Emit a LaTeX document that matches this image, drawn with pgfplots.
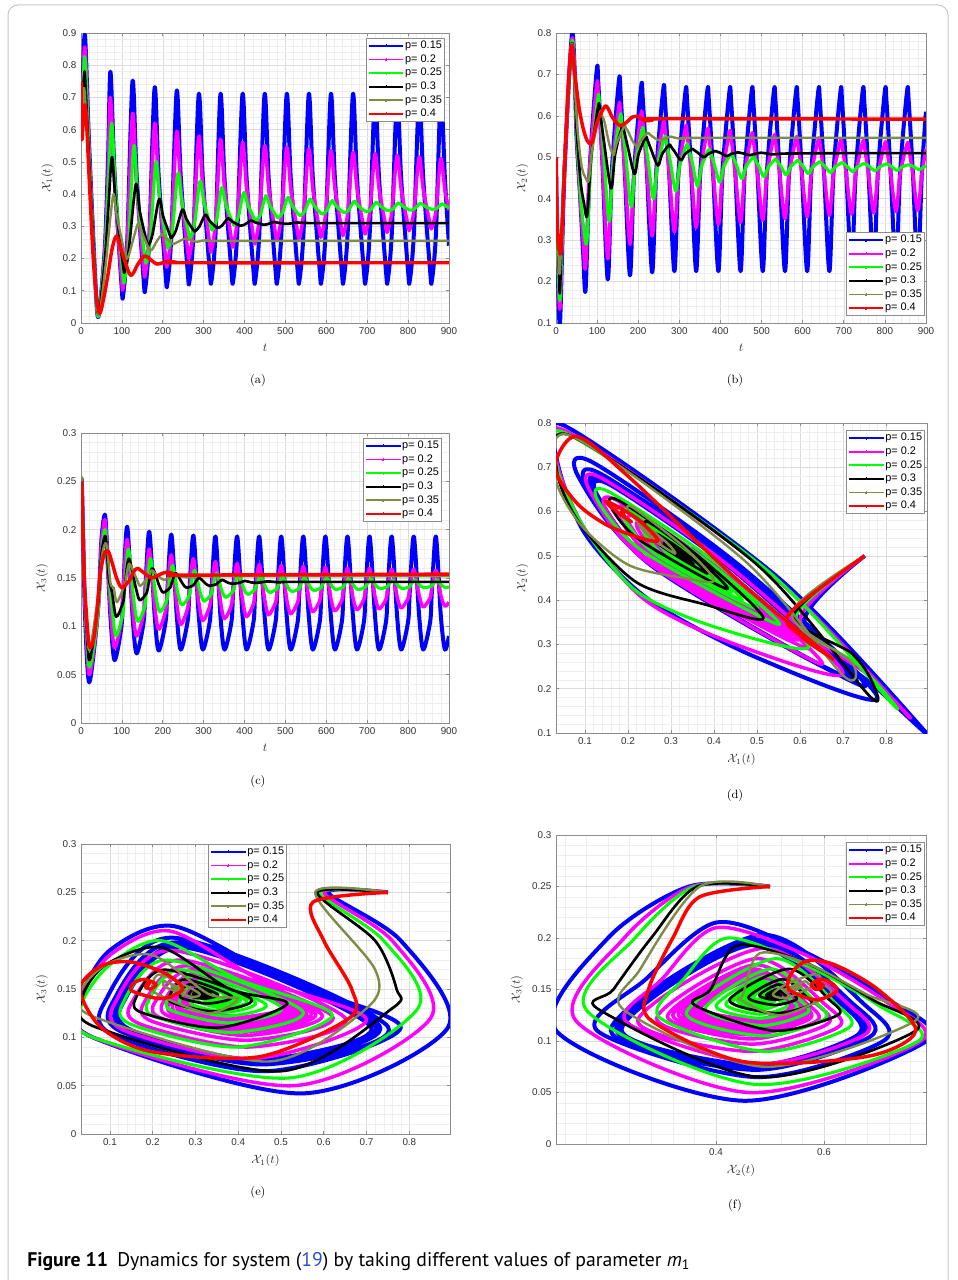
\documentclass[border=0pt]{standalone}
\usepackage{pgfplots}
\pgfplotsset{compat=1.18}
\usepackage{pgfplotstable}
\usepackage{fontspec}
\newfontfamily\arialf{Liberation Sans}
\newfontfamily\capf{PT Sans}
\definecolor{cb}{rgb}{0,0,1}
\definecolor{cm}{rgb}{1,0,1}
\definecolor{cg}{rgb}{0,1,0}
\definecolor{ck}{rgb}{0,0,0}
\definecolor{co}{RGB}{125,140,70}
\definecolor{cr}{rgb}{1,0,0}
\definecolor{axc}{RGB}{140,140,140}
\definecolor{tkc}{RGB}{50,50,50}
\definecolor{linkblue}{RGB}{40,80,200}

\pgfplotstableread{
t x1 x2 x3
0 0.75 0.50 0.25
2 0.61 0.35 0.25
5 0.78 0.20 0.20
10 0.89 0.104 0.11
20 0.55 0.45 0.042
38 0.06 0.79 0.10
45 0.034 0.72 0.14
50 0.10 0.55 0.19
59 0.25 0.40 0.215
66 0.50 0.27 0.16
72 0.78 0.18 0.11
82 0.467 0.472 0.065
99 0.12 0.71 0.10
103 0.085 0.678 0.134
113 0.251 0.483 0.203
126 0.75 0.205 0.111
136 0.46 0.469 0.072
153 0.137 0.685 0.104
157 0.105 0.656 0.135
167 0.261 0.473 0.198
180 0.73 0.215 0.112
190 0.455 0.465 0.075
207 0.15 0.67 0.105
211 0.12 0.643 0.135
221 0.27 0.468 0.195
234 0.72 0.222 0.112
244 0.454 0.466 0.076
261 0.158 0.665 0.106
265 0.128 0.638 0.135
275 0.274 0.467 0.194
288 0.71 0.225 0.111
298 0.449 0.464 0.076
315 0.159 0.66 0.105
319 0.13 0.634 0.135
329 0.275 0.464 0.193
341 0.71 0.225 0.111
351 0.449 0.464 0.076
368 0.159 0.66 0.105
372 0.13 0.634 0.135
382 0.275 0.464 0.193
395 0.71 0.225 0.111
405 0.449 0.464 0.076
422 0.159 0.66 0.105
426 0.13 0.634 0.135
436 0.275 0.464 0.193
449 0.71 0.225 0.111
459 0.449 0.464 0.076
476 0.159 0.66 0.105
480 0.13 0.634 0.135
490 0.275 0.464 0.193
503 0.71 0.225 0.111
513 0.449 0.464 0.076
530 0.159 0.66 0.105
534 0.13 0.634 0.135
544 0.275 0.464 0.193
557 0.71 0.225 0.111
567 0.449 0.464 0.076
584 0.159 0.66 0.105
588 0.13 0.634 0.135
598 0.275 0.464 0.193
611 0.71 0.225 0.111
621 0.449 0.464 0.076
638 0.159 0.66 0.105
642 0.13 0.634 0.135
652 0.275 0.464 0.193
665 0.71 0.225 0.111
675 0.449 0.464 0.076
692 0.159 0.66 0.105
696 0.13 0.634 0.135
706 0.275 0.464 0.193
719 0.71 0.225 0.111
729 0.449 0.464 0.076
746 0.159 0.66 0.105
750 0.13 0.634 0.135
760 0.275 0.464 0.193
773 0.71 0.225 0.111
783 0.449 0.464 0.076
800 0.159 0.66 0.105
804 0.13 0.634 0.135
814 0.275 0.464 0.193
827 0.71 0.225 0.111
837 0.449 0.464 0.076
854 0.159 0.66 0.105
858 0.13 0.634 0.135
868 0.275 0.464 0.193
880 0.71 0.225 0.111
890 0.449 0.464 0.076
900 0.24 0.61 0.09
}\tblB

\pgfplotstableread{
t x1 x2 x3
0 0.75 0.50 0.25
2 0.60 0.355 0.25
5 0.76 0.23 0.20
10 0.85 0.14 0.12
20 0.53 0.46 0.05
38 0.06 0.78 0.10
45 0.035 0.71 0.14
50 0.10 0.56 0.185
59 0.24 0.40 0.21
66 0.45 0.30 0.16
72 0.70 0.235 0.118
82 0.435 0.477 0.078
99 0.14 0.675 0.106
103 0.11 0.649 0.134
113 0.245 0.486 0.19
126 0.65 0.255 0.12
136 0.425 0.459 0.09
153 0.175 0.625 0.113
157 0.15 0.603 0.135
167 0.268 0.474 0.18
180 0.62 0.29 0.122
190 0.422 0.463 0.097
207 0.202 0.605 0.116
211 0.18 0.586 0.136
221 0.284 0.472 0.174
234 0.595 0.31 0.124
244 0.42 0.461 0.102
261 0.225 0.585 0.119
265 0.205 0.569 0.136
275 0.299 0.466 0.17
288 0.58 0.32 0.125
298 0.42 0.459 0.106
315 0.243 0.572 0.121
319 0.225 0.557 0.1365
329 0.311 0.463 0.167
341 0.57 0.33 0.126
351 0.421 0.459 0.108
368 0.257 0.565 0.122
372 0.24 0.551 0.1365
382 0.32 0.463 0.165
395 0.56 0.338 0.127
405 0.42 0.46 0.11
422 0.266 0.56 0.1235
426 0.25 0.547 0.137
436 0.325 0.462 0.164
449 0.55 0.343 0.128
459 0.42 0.46 0.112
476 0.275 0.555 0.125
480 0.26 0.542 0.1375
490 0.331 0.462 0.163
503 0.545 0.348 0.128
513 0.419 0.459 0.113
530 0.279 0.55 0.125
534 0.265 0.538 0.1375
544 0.334 0.461 0.162
557 0.54 0.352 0.129
567 0.418 0.459 0.115
584 0.283 0.546 0.1265
588 0.27 0.534 0.138
598 0.336 0.46 0.161
611 0.535 0.356 0.129
621 0.418 0.459 0.116
638 0.288 0.543 0.127
642 0.275 0.532 0.138
652 0.339 0.461 0.16
665 0.53 0.36 0.13
675 0.418 0.459 0.117
692 0.292 0.54 0.128
696 0.28 0.529 0.1385
706 0.341 0.46 0.16
719 0.525 0.363 0.131
729 0.417 0.459 0.118
746 0.297 0.537 0.128
750 0.285 0.527 0.1385
760 0.344 0.46 0.159
773 0.52 0.366 0.131
783 0.416 0.458 0.119
800 0.301 0.534 0.129
804 0.29 0.524 0.139
814 0.346 0.46 0.159
827 0.515 0.369 0.132
837 0.416 0.459 0.12
854 0.306 0.532 0.1295
858 0.295 0.522 0.139
868 0.349 0.46 0.158
880 0.51 0.372 0.132
890 0.413 0.46 0.121
900 0.35 0.52 0.125
}\tblM

\pgfplotstableread{
t x1 x2 x3
0 0.75 0.50 0.25
2 0.59 0.36 0.25
5 0.74 0.25 0.20
10 0.82 0.16 0.13
20 0.52 0.47 0.058
38 0.06 0.775 0.10
45 0.035 0.70 0.135
50 0.10 0.56 0.175
59 0.22 0.42 0.20
66 0.40 0.34 0.16
75 0.62 0.295 0.123
85 0.40 0.488 0.09
102 0.155 0.645 0.1125
106 0.13 0.624 0.135
116 0.235 0.51 0.18
129 0.55 0.345 0.1275
139 0.388 0.485 0.105
156 0.208 0.60 0.121
160 0.19 0.585 0.1375
170 0.268 0.501 0.17
183 0.50 0.38 0.1315
193 0.381 0.483 0.115
210 0.248 0.568 0.127
214 0.235 0.557 0.139
224 0.293 0.492 0.163
237 0.465 0.40 0.134
247 0.375 0.481 0.122
264 0.275 0.548 0.131
268 0.265 0.539 0.14
278 0.309 0.49 0.158
291 0.44 0.418 0.136
301 0.373 0.48 0.126
318 0.297 0.53 0.133
322 0.29 0.523 0.1405
332 0.322 0.485 0.155
344 0.42 0.43 0.1375
354 0.368 0.478 0.13
371 0.311 0.518 0.136
375 0.305 0.513 0.1415
385 0.33 0.483 0.153
398 0.405 0.44 0.139
408 0.366 0.477 0.133
425 0.322 0.508 0.138
429 0.318 0.504 0.1425
439 0.337 0.481 0.152
452 0.395 0.448 0.14
462 0.364 0.477 0.135
479 0.33 0.50 0.139
483 0.327 0.497 0.143
493 0.343 0.479 0.151
506 0.39 0.453 0.1405
516 0.364 0.476 0.136
533 0.336 0.495 0.139
537 0.333 0.492 0.143
547 0.346 0.478 0.15
560 0.385 0.457 0.141
570 0.364 0.476 0.137
587 0.34 0.492 0.14
591 0.338 0.49 0.1435
601 0.349 0.478 0.15
614 0.38 0.46 0.1415
624 0.363 0.476 0.138
641 0.344 0.489 0.1405
645 0.342 0.487 0.1435
655 0.351 0.477 0.149
668 0.378 0.463 0.1415
678 0.363 0.476 0.138
695 0.347 0.487 0.1405
699 0.345 0.486 0.1435
709 0.3525 0.477 0.149
722 0.375 0.465 0.142
732 0.363 0.476 0.139
749 0.349 0.485 0.141
753 0.348 0.484 0.1435
763 0.354 0.477 0.148
776 0.373 0.467 0.142
786 0.363 0.476 0.139
803 0.351 0.484 0.141
807 0.35 0.483 0.1435
817 0.3555 0.477 0.148
830 0.372 0.468 0.142
840 0.363 0.476 0.14
857 0.353 0.482 0.1415
861 0.352 0.481 0.144
871 0.3565 0.477 0.148
883 0.37 0.47 0.142
893 0.362 0.476 0.14
900 0.358 0.479 0.141
}\tblG

\pgfplotstableread{
t x1 x2 x3
0 0.75 0.50 0.25
2 0.585 0.365 0.25
5 0.72 0.28 0.20
8 0.77 0.21 0.15
10 0.76 0.185 0.13
20 0.50 0.48 0.065
38 0.07 0.77 0.11
45 0.035 0.69 0.14
50 0.09 0.57 0.175
60 0.22 0.44 0.193
68 0.38 0.39 0.15
76 0.515 0.36 0.135
86 0.355 0.506 0.11
103 0.178 0.625 0.125
107 0.16 0.61 0.14
117 0.228 0.535 0.17
134 0.43 0.425 0.14
144 0.345 0.508 0.127
161 0.25 0.575 0.135
165 0.24 0.566 0.1435
175 0.276 0.523 0.16
191 0.385 0.46 0.1425
201 0.331 0.508 0.135
218 0.271 0.548 0.14
222 0.265 0.543 0.145
232 0.287 0.517 0.155
248 0.352 0.48 0.1445
258 0.322 0.5075 0.14
275 0.288 0.53 0.1425
279 0.285 0.527 0.145
289 0.298 0.513 0.15
304 0.336 0.493 0.1445
314 0.318 0.508 0.142
331 0.297 0.52 0.1435
335 0.295 0.518 0.145
345 0.3025 0.511 0.148
360 0.325 0.50 0.145
370 0.315 0.508 0.144
387 0.303 0.515 0.145
391 0.302 0.514 0.1455
401 0.306 0.51 0.147
416 0.318 0.503 0.1455
426 0.312 0.508 0.145
443 0.306 0.512 0.1457
447 0.305 0.511 0.146
457 0.307 0.509 0.1465
472 0.314 0.505 0.146
482 0.311 0.508 0.1455
499 0.308 0.511 0.146
513 0.309 0.509 0.146
528 0.312 0.507 0.146
560 0.31 0.509 0.146
700 0.31 0.51 0.146
900 0.31 0.51 0.146
}\tblK

\pgfplotstableread{
t x1 x2 x3
0 0.75 0.50 0.25
2 0.58 0.37 0.25
6 0.72 0.26 0.17
10 0.70 0.23 0.13
20 0.47 0.49 0.075
38 0.07 0.77 0.12
45 0.03 0.68 0.145
52 0.09 0.57 0.175
62 0.20 0.48 0.185
72 0.33 0.45 0.145
80 0.40 0.445 0.14
88 0.33 0.52 0.125
108 0.21 0.61 0.145
112 0.20 0.60 0.155
118 0.215 0.585 0.165
130 0.27 0.53 0.155
140 0.31 0.505 0.145
146 0.29 0.53 0.142
166 0.23 0.575 0.152
170 0.225 0.57 0.156
174 0.228 0.565 0.158
186 0.255 0.54 0.153
198 0.275 0.525 0.149
204 0.27 0.537 0.148
222 0.247 0.558 0.152
226 0.245 0.557 0.154
230 0.247 0.554 0.154
242 0.255 0.545 0.152
255 0.262 0.54 0.151
261 0.26 0.544 0.1505
279 0.253 0.55 0.152
283 0.252 0.549 0.1525
295 0.255 0.546 0.152
310 0.257 0.545 0.152
350 0.255 0.547 0.152
900 0.255 0.547 0.152
}\tblO

\pgfplotstableread{
t x1 x2 x3
0 0.75 0.50 0.25
2 0.575 0.37 0.24
4 0.60 0.32 0.20
8 0.665 0.275 0.15
12 0.66 0.28 0.12
20 0.45 0.45 0.08
30 0.20 0.68 0.085
38 0.08 0.77 0.11
46 0.03 0.70 0.15
56 0.08 0.62 0.174
66 0.15 0.57 0.178
76 0.23 0.54 0.166
87 0.27 0.535 0.15
100 0.22 0.585 0.14
119 0.152 0.623 0.148
128 0.155 0.615 0.156
138 0.18 0.595 0.16
155 0.208 0.577 0.155
172 0.195 0.585 0.15
185 0.183 0.597 0.152
200 0.187 0.598 0.155
215 0.192 0.588 0.156
235 0.188 0.59 0.153
260 0.187 0.593 0.153
900 0.187 0.592 0.154
}\tblR

\pgfplotsset{
  mfig/.style={
    scale only axis,
    axis line style={axc, line width=0.5pt},
    every tick/.style={axc, line width=0.5pt},
    tick align=inside,
    tick pos=both,
    major tick length=2.5pt,
    minor tick length=0pt,
    grid=both,
    major grid style={gray!28, line width=0.4pt},
    minor grid style={gray!13, line width=0.3pt},
    minor tick num=4,
    scaled ticks=false,
    tick label style={font=\arialf\fontsize{7.4}{8}\selectfont, text=tkc},
    /pgf/number format/assume math mode=true,
    /pgf/number format/fixed,
    /pgf/number format/precision=2,
    label style={font=\fontsize{9}{10}\selectfont, text=tkc},
    legend style={font=\arialf\fontsize{8.2}{9}\selectfont, draw=axc, line width=0.5pt, fill=white,
      inner sep=1.4pt, row sep=1.6pt,
      nodes={inner sep=0.6pt, text height=5.8pt, text depth=1.6pt},
      cells={anchor=west}},
    legend image code/.code={\draw[#1, line width=1.3pt] (0pt,0pt) -- (26pt,0pt); \fill[#1, line width=0pt] (13pt,0pt) circle (0.75pt);},
  },
  sB/.style={color=cb, line width=3pt, smooth, line join=round},
  sM/.style={color=cm, line width=2.6pt, smooth, line join=round},
  sG/.style={color=cg, line width=2.3pt, smooth, line join=round},
  sK/.style={color=ck, line width=2pt, smooth, line join=round},
  sO/.style={color=co, line width=1.8pt, smooth, line join=round},
  sR/.style={color=cr, line width=2.6pt, smooth, line join=round},
}

\newcommand{\allplots}[2]{%
  \addplot[sB] table[x=#1,y=#2]{\tblB};
  \addplot[sM] table[x=#1,y=#2]{\tblM};
  \addplot[sG] table[x=#1,y=#2]{\tblG};
  \addplot[sK] table[x=#1,y=#2]{\tblK};
  \addplot[sO] table[x=#1,y=#2]{\tblO};
  \addplot[sR] table[x=#1,y=#2]{\tblR};
  \legend{p= 0.15, p= 0.2, p= 0.25, p= 0.3, p= 0.35, p= 0.4}
}

\begin{document}
\begin{tikzpicture}
\path[use as bounding box] (0,0) rectangle (717.75pt,-960pt);
\draw[gray!45, line width=0.75pt, rounded corners=7.5pt] (6pt,-962pt) -- (6pt,-3.75pt) -- (711pt,-3.75pt) -- (711pt,-962pt);

% (a)
\begin{axis}[mfig, at={(60.75pt,-242.25pt)}, anchor=south west, width=276pt, height=217.5pt,
  xmin=0, xmax=900, ymin=0, ymax=0.9,
  xtick={0,100,200,300,400,500,600,700,800,900},
  ytick={0,0.1,0.2,0.3,0.4,0.5,0.6,0.7,0.8,0.9},
  xlabel={$t$}, ylabel={$\mathcal{X}_1(t)$},
  legend style={at={(0.989,0.983)}, anchor=north east}]
\allplots{t}{x1}
\end{axis}

% (b)
\begin{axis}[mfig, at={(417pt,-242.25pt)}, anchor=south west, width=277.5pt, height=217.5pt,
  xmin=0, xmax=900, ymin=0.1, ymax=0.8,
  xtick={0,100,200,300,400,500,600,700,800,900},
  ytick={0.1,0.2,0.3,0.4,0.5,0.6,0.7,0.8},
  xlabel={$t$}, ylabel={$\mathcal{X}_2(t)$},
  legend style={at={(0.997,0.024)}, anchor=south east}]
\allplots{t}{x2}
\end{axis}

% (c)
\begin{axis}[mfig, at={(60.75pt,-542.25pt)}, anchor=south west, width=276pt, height=217.5pt,
  xmin=0, xmax=900, ymin=0, ymax=0.3,
  xtick={0,100,200,300,400,500,600,700,800,900},
  ytick={0,0.05,0.1,0.15,0.2,0.25,0.3},
  xlabel={$t$}, ylabel={$\mathcal{X}_3(t)$},
  legend style={at={(0.981,0.983)}, anchor=north east}]
\allplots{t}{x3}
\end{axis}

% (d)
\begin{axis}[mfig, at={(417pt,-549.75pt)}, anchor=south west, width=278.25pt, height=232.5pt,
  xmin=0.0325, xmax=0.895, ymin=0.1, ymax=0.8,
  xtick={0.1,0.2,0.3,0.4,0.5,0.6,0.7,0.8},
  ytick={0.1,0.2,0.3,0.4,0.5,0.6,0.7,0.8},
  xlabel={$\mathcal{X}_1(t)$}, ylabel={$\mathcal{X}_2(t)$},
  legend style={at={(0.995,0.977)}, anchor=north east}]
\allplots{x1}{x2}
\end{axis}

% (e)
\begin{axis}[mfig, at={(60.75pt,-850.5pt)}, anchor=south west, width=276.75pt, height=217.5pt,
  xmin=0.0325, xmax=0.895, ymin=0, ymax=0.3,
  xtick={0.1,0.2,0.3,0.4,0.5,0.6,0.7,0.8},
  ytick={0,0.05,0.1,0.15,0.2,0.25,0.3},
  xlabel={$\mathcal{X}_1(t)$}, ylabel={$\mathcal{X}_3(t)$},
  legend style={at={(0.344,1.0)}, anchor=north west}]
\allplots{x1}{x3}
\end{axis}

% (f)
\begin{axis}[mfig, at={(417pt,-858pt)}, anchor=south west, width=277.5pt, height=231.75pt,
  xmin=0.1037, xmax=0.789, ymin=0, ymax=0.3,
  xtick={0.4,0.6},
  minor xtick={0.12,0.16,0.2,0.24,0.28,0.32,0.36,0.44,0.48,0.52,0.56,0.64,0.68,0.72,0.76},
  ytick={0,0.05,0.1,0.15,0.2,0.25,0.3},
  xlabel={$\mathcal{X}_2(t)$}, ylabel={$\mathcal{X}_3(t)$},
  legend style={at={(0.997,0.977)}, anchor=north east}]
\allplots{x2}{x3}
\end{axis}

\node[font=\fontsize{9}{10}\selectfont] at (193.5pt,-285pt) {(a)};
\node[font=\fontsize{9}{10}\selectfont] at (551.25pt,-285pt) {(b)};
\node[font=\fontsize{9}{10}\selectfont] at (193.5pt,-585.75pt) {(c)};
\node[font=\fontsize{9}{10}\selectfont] at (551.25pt,-596.25pt) {(d)};
\node[font=\fontsize{9}{10}\selectfont] at (193.5pt,-894pt) {(e)};
\node[font=\fontsize{9}{10}\selectfont] at (551.25pt,-903.75pt) {(f)};

\node[anchor=base west, inner sep=0pt, font=\capf\fontsize{14.8}{16}\selectfont] at (20.25pt,-949.5pt)
  {\textbf{Figure 11}\hspace{7pt}Dynamics for system (\textcolor{linkblue}{19}) by taking different values of parameter \textit{m}\textsubscript{1}};
\end{tikzpicture}
\end{document}
